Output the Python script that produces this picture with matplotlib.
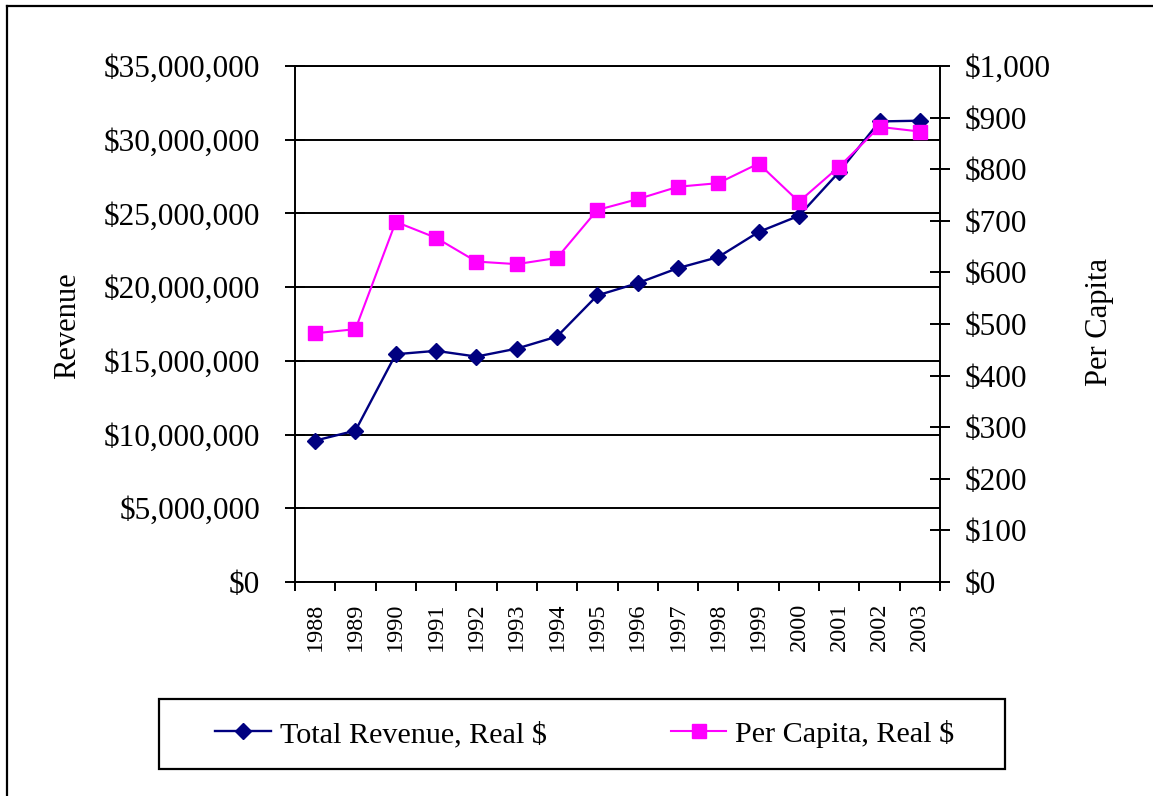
import numpy as np
import matplotlib
matplotlib.use("Agg")
import matplotlib.pyplot as plt
from matplotlib.ticker import FuncFormatter, MultipleLocator
from matplotlib.lines import Line2D
from matplotlib.patches import Rectangle

plt.rcParams['font.family'] = ['Liberation Serif', 'DejaVu Serif']

years = ['1988', '1989', '1990', '1991', '1992', '1993', '1994', '1995',
         '1996', '1997', '1998', '1999', '2000', '2001', '2002', '2003']
total_revenue = [9590000, 10270000, 15450000, 15680000, 15290000, 15830000,
                 16650000, 19440000, 20270000, 21290000, 22040000, 23740000,
                 24840000, 27820000, 31240000, 31290000]
per_capita = [482, 490, 698, 667, 621, 616, 628, 721,
              742, 766, 773, 811, 737, 805, 882, 873]

navy = '#000080'
pink = '#FF00FF'

fig = plt.figure(figsize=(11.53, 7.96), dpi=100)
ax = fig.add_axes([295/1153, 1-582/796, 645/1153, 516/796])
ax2 = ax.twinx()

x = np.arange(len(years))
l1, = ax.plot(x, total_revenue, color=navy, lw=1.7, marker='D', markersize=7.8,
              label='Total Revenue, Real $', clip_on=False, zorder=3)
l2, = ax2.plot(x, per_capita, color=pink, lw=1.5, marker='s', markersize=10.5,
               label='Per Capita, Real $', clip_on=False, zorder=3)

ax.set_xlim(-0.5, len(years) - 0.5)
ax.set_ylim(0, 35000000)
ax2.set_ylim(0, 1000)

ax.yaxis.set_major_locator(MultipleLocator(5000000))
ax2.yaxis.set_major_locator(MultipleLocator(100))
ax.yaxis.set_major_formatter(FuncFormatter(lambda v, p: f"${v:,.0f}"))
ax2.yaxis.set_major_formatter(FuncFormatter(lambda v, p: f"${v:,.0f}"))

ax.set_xticks(np.arange(-0.5, len(years), 1))
ax.set_xticklabels([])
ax.set_xticks(x, minor=True)
ax.set_xticklabels(years, minor=True, rotation=90, fontsize=17.5)
ax.tick_params(axis='x', which='major', direction='out', length=6.5, width=1.4)
ax.tick_params(axis='x', which='minor', length=0, pad=15)

ax.tick_params(axis='y', direction='inout', length=14, width=1.4, pad=18, labelsize=22.5)
ax2.tick_params(axis='y', direction='inout', length=14, width=1.4, pad=11, labelsize=22.5)

ax.grid(axis='y', color='black', lw=1.4)
ax.set_axisbelow(True)

for s in ax.spines.values():
    s.set_linewidth(1.4)
for s in ['left', 'bottom', 'top']:
    ax2.spines[s].set_visible(False)
ax2.spines['right'].set_linewidth(1.4)
ax.spines['right'].set_visible(False)

fig.text(68/1153, 1-326/796, 'Revenue', rotation=90, ha='center', va='center', fontsize=22)
fig.text(1099/1153, 1-322/796, 'Per Capita', rotation=90, ha='center', va='center', fontsize=22)

fig.legend(handles=[l1, l2], loc='center', bbox_to_anchor=(585/1153, 1-734/796),
           frameon=False, ncol=2, fontsize=21.7, columnspacing=4.1,
           handlelength=1.85, handletextpad=0.3)
fig.patches.append(Rectangle((159/1153, 1-769/796), 846/1153, 70/796,
                             transform=fig.transFigure, fill=False,
                             edgecolor='black', lw=1.6))

# outer frame (left and top edges only)
fig.add_artist(Line2D([7/1153, 7/1153], [0, 1-6/796], color='black', lw=1.6))
fig.add_artist(Line2D([7/1153, 1], [1-6/796, 1-6/796], color='black', lw=1.6))

fig.savefig('out.png', dpi=100)
